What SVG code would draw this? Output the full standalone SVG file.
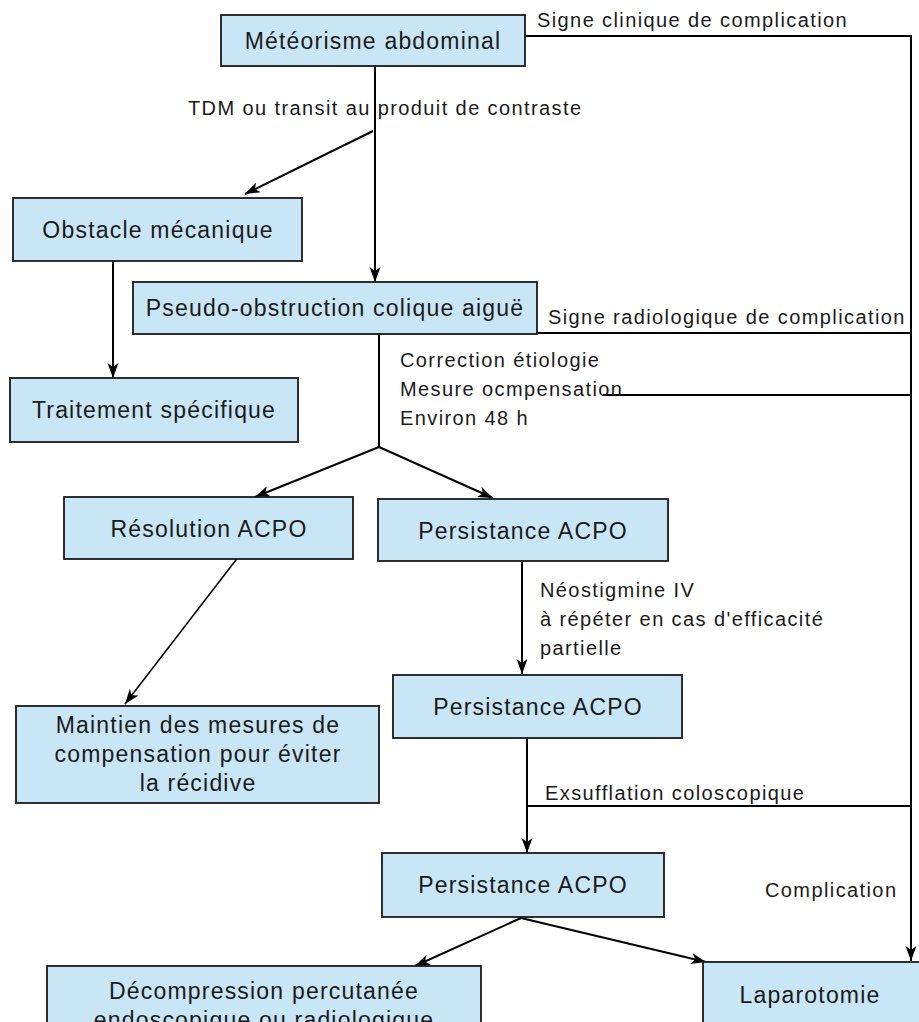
<svg xmlns="http://www.w3.org/2000/svg" width="919" height="1022" viewBox="0 0 919 1022">
<style>
.box{fill:#c9e6f6;stroke:#1a1a1a;stroke-width:1.8}
.n{font-family:"Liberation Sans",Arial,sans-serif;font-size:23px;letter-spacing:1.2px;text-anchor:middle;fill:#1a1a1a}
.l{font-family:"Liberation Sans",Arial,sans-serif;font-size:20px;letter-spacing:1.4px;fill:#1a1a1a}
.c{fill:none;stroke:#000;stroke-width:2}
.t{fill:none;stroke:#000;stroke-width:1.5}
</style>
<defs>
<marker id="ah" markerWidth="15" markerHeight="12" refX="15" refY="6" orient="auto" markerUnits="userSpaceOnUse">
<path d="M0,0.5 L15,6 L0,11.5 L4,6 z" fill="#000"/>
</marker>
</defs>
<rect width="919" height="1022" fill="#fff"/>
<g id="connectors">
<line class="c" x1="375" y1="66" x2="375" y2="282" marker-end="url(#ah)"/>
<line class="c" x1="373" y1="131" x2="245" y2="194" marker-end="url(#ah)"/>
<line class="c" x1="113" y1="261" x2="113" y2="378" marker-end="url(#ah)"/>
<polyline class="c" points="525,36 911,36 911,961" marker-end="url(#ah)"/>
<line class="c" x1="537" y1="333" x2="911" y2="333"/>
<line class="c" x1="603" y1="395" x2="911" y2="395"/>
<line class="c" x1="379" y1="334" x2="379" y2="447"/>
<line class="c" x1="379" y1="447" x2="255" y2="497" marker-end="url(#ah)"/>
<line class="c" x1="379" y1="447" x2="493" y2="498" marker-end="url(#ah)"/>
<line class="t" x1="239" y1="556" x2="125" y2="704" marker-end="url(#ah)"/>
<line class="c" x1="522" y1="558" x2="522" y2="674" marker-end="url(#ah)"/>
<line class="c" x1="527" y1="738" x2="527" y2="853" marker-end="url(#ah)"/>
<line class="c" x1="527" y1="806" x2="911" y2="806"/>
<line class="c" x1="521" y1="918" x2="415" y2="966" marker-end="url(#ah)"/>
<line class="c" x1="521" y1="918" x2="706" y2="962" marker-end="url(#ah)"/>
<text class="l" x="537" y="27">Signe clinique de complication</text>
<text class="l" x="188" y="115">TDM ou transit au produit de contraste</text>
<text class="l" x="548" y="324">Signe radiologique de complication</text>
<text class="l" x="400" y="367">Correction étiologie</text>
<text class="l" x="400" y="396">Mesure ocmpensation</text>
<text class="l" x="400" y="425">Environ 48 h</text>
<text class="l" x="540" y="597">Néostigmine IV</text>
<text class="l" x="540" y="626">à répéter en cas d'efficacité</text>
<text class="l" x="540" y="655">partielle</text>
<text class="l" x="545" y="800">Exsufflation coloscopique</text>
<text class="l" x="765" y="897">Complication</text>
</g>
<g id="n1"><rect class="box" x="221" y="15" width="304" height="51"/><text class="n" x="373" y="49">Météorisme abdominal</text></g>
<g id="n2"><rect class="box" x="13" y="198" width="289" height="63"/><text class="n" x="158" y="238">Obstacle mécanique</text></g>
<g id="n3"><rect class="box" x="10" y="378" width="288" height="64"/><text class="n" x="154" y="418">Traitement spécifique</text></g>
<g id="n4"><rect class="box" x="133" y="282" width="404" height="52"/><text class="n" x="335" y="316">Pseudo-obstruction colique aiguë</text></g>
<g id="n5"><rect class="box" x="64" y="497" width="289" height="62"/><text class="n" x="209" y="537">Résolution ACPO</text></g>
<g id="n6"><rect class="box" x="378" y="499" width="290" height="62"/><text class="n" x="523" y="539">Persistance ACPO</text></g>
<g id="n7"><rect class="box" x="16" y="706" width="363" height="97"/><text class="n" x="198" y="733">Maintien des mesures de</text><text class="n" x="198" y="762">compensation pour éviter</text><text class="n" x="198" y="791">la récidive</text></g>
<g id="n8"><rect class="box" x="393" y="675" width="289" height="63"/><text class="n" x="538" y="715">Persistance ACPO</text></g>
<g id="n9"><rect class="box" x="382" y="853" width="282" height="64"/><text class="n" x="523" y="893">Persistance ACPO</text></g>
<g id="n10"><rect class="box" x="47" y="966" width="434" height="70"/><text class="n" x="264" y="999">Décompression percutanée</text><text class="n" x="264" y="1028">endoscopique ou radiologique</text></g>
<g id="n11"><rect class="box" x="703" y="962" width="222" height="70"/><text class="n" x="810" y="1003">Laparotomie</text></g>
</svg>
